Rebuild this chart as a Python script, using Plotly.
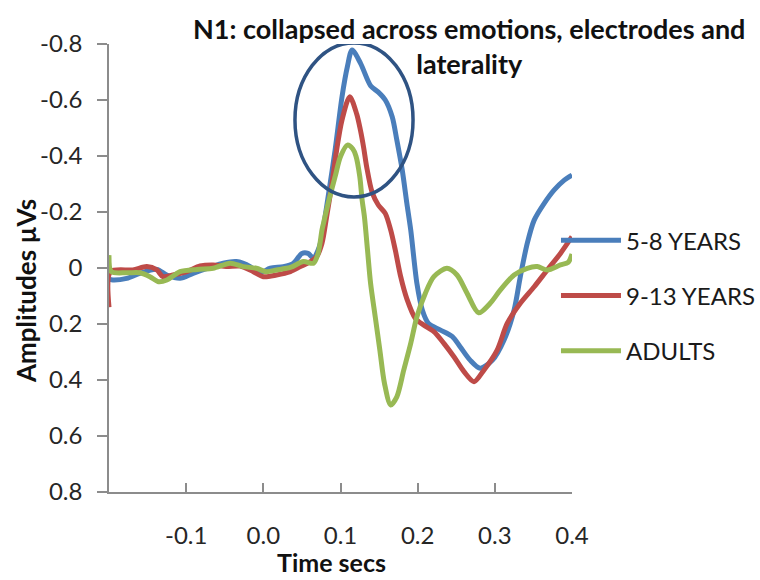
import plotly.graph_objects as go

# Grand-average N1 waveforms (time in s, amplitude in µV)
t_5_8 = [-0.200, -0.195, -0.177, -0.160, -0.138, -0.125, -0.108, -0.091, -0.069, -0.052,
         -0.035, -0.017, -0.006, 0.009, 0.026, 0.039, 0.050, 0.058, 0.065, 0.071,
         0.076, 0.080, 0.084, 0.093, 0.102, 0.109, 0.115, 0.126, 0.139, 0.149,
         0.158, 0.167, 0.173, 0.180, 0.186, 0.191, 0.199, 0.206, 0.214, 0.229,
         0.245, 0.255, 0.268, 0.281, 0.297, 0.312, 0.325, 0.333, 0.342, 0.351,
         0.364, 0.377, 0.390, 0.400]
v_5_8 = [0.040, 0.043, 0.037, 0.019, 0.005, 0.025, 0.037, 0.019, -0.002, -0.017,
         -0.023, -0.005, 0.019, 0.001, -0.005, -0.017, -0.052, -0.052, -0.035, -0.064,
         -0.112, -0.183, -0.255, -0.421, -0.612, -0.720, -0.779, -0.731, -0.651, -0.628,
         -0.600, -0.540, -0.457, -0.350, -0.231, -0.136, 0.055, 0.150, 0.198, 0.221,
         0.245, 0.281, 0.329, 0.358, 0.329, 0.257, 0.150, 0.031, -0.088, -0.171,
         -0.231, -0.279, -0.314, -0.332]

t_9_13 = [-0.200, -0.198, -0.169, -0.151, -0.138, -0.130, -0.117, -0.099, -0.082, -0.065,
          -0.048, -0.030, -0.013, 0.000, 0.017, 0.035, 0.048, 0.061, 0.069, 0.076,
          0.082, 0.089, 0.095, 0.102, 0.112, 0.121, 0.126, 0.130, 0.134, 0.141,
          0.149, 0.158, 0.165, 0.171, 0.178, 0.186, 0.197, 0.208, 0.221, 0.234,
          0.247, 0.260, 0.273, 0.286, 0.303, 0.316, 0.333, 0.351, 0.368, 0.385,
          0.400]
v_9_13 = [0.140, 0.013, 0.007, -0.005, 0.007, 0.031, 0.025, 0.013, -0.007, -0.011,
          -0.005, -0.007, 0.013, 0.031, 0.025, 0.013, -0.005, -0.023, -0.040, -0.088,
          -0.183, -0.302, -0.421, -0.529, -0.612, -0.550, -0.490, -0.430, -0.360, -0.270,
          -0.225, -0.195, -0.136, -0.064, 0.031, 0.110, 0.180, 0.204, 0.227, 0.269,
          0.317, 0.370, 0.406, 0.364, 0.293, 0.198, 0.126, 0.067, 0.007, -0.052,
          -0.112]

t_adults = [-0.200, -0.197, -0.177, -0.160, -0.147, -0.136, -0.125, -0.108, -0.086, -0.065,
            -0.043, -0.026, -0.009, 0.004, 0.017, 0.035, 0.052, 0.065, 0.071, 0.076,
            0.078, 0.084, 0.093, 0.100, 0.109, 0.116, 0.120, 0.125, 0.128, 0.131,
            0.135, 0.139, 0.145, 0.151, 0.157, 0.165, 0.173, 0.182, 0.191, 0.199,
            0.210, 0.221, 0.238, 0.251, 0.264, 0.279, 0.294, 0.307, 0.325, 0.342,
            0.355, 0.368, 0.385, 0.395, 0.400]
v_adults = [-0.046, 0.013, 0.017, 0.017, 0.031, 0.049, 0.043, 0.013, 0.005, 0.001,
            -0.017, -0.005, 0.001, 0.013, 0.007, -0.002, -0.023, -0.017, -0.052, -0.136,
            -0.160, -0.231, -0.326, -0.398, -0.439, -0.425, -0.400, -0.326, -0.243, -0.183,
            -0.064, 0.055, 0.174, 0.293, 0.412, 0.489, 0.460, 0.364, 0.269, 0.174,
            0.090, 0.031, 0.001, 0.025, 0.090, 0.160, 0.126, 0.079, 0.025, 0.001,
            -0.005, 0.007, -0.011, -0.020, -0.050]

series_names = ["5-8 YEARS", "9-13 YEARS", "ADULTS"]
series_colors = ["#4A7EBB", "#BE4B48", "#98B954"]

x_ticks = [-0.1, 0.0, 0.1, 0.2, 0.3, 0.4]
x_tick_text = ["-0.1", "0.0", "0.1", "0.2", "0.3", "0.4"]
y_ticks = [-0.8, -0.6, -0.4, -0.2, 0.0, 0.2, 0.4, 0.6, 0.8]
y_tick_text = ["-0.8", "-0.6", "-0.4", "-0.2", "0", "0.2", "0.4", "0.6", "0.8"]

# N1 highlight ellipse (data coordinates)
n1_time = [0.041, 0.194]
n1_amp = [-0.804, -0.254]

chart_title = "N1: collapsed across emotions, electrodes and<br>laterality"
x_title = "Time secs"
y_title = "Amplitudes µVs"

FONT = "Lato"
AXIS_GREY = "#8C8C8C"
TEXT_DARK = "#262626"

fig = go.Figure()
for i, (t, v) in enumerate([(t_5_8, v_5_8), (t_9_13, v_9_13), (t_adults, v_adults)]):
    fig.add_trace(go.Scatter(
        x=t, y=v, mode="lines", name=series_names[i],
        legendgroup=series_names[i],
        line=dict(color=series_colors[i], width=5, shape="spline", smoothing=0.8),
    ))

fig.add_shape(type="circle", xref="x", yref="y",
              x0=n1_time[0], x1=n1_time[1], y0=n1_amp[0], y1=n1_amp[1],
              line=dict(color="#2F5383", width=3.5), layer="above")

# Chart title and axis titles
fig.add_annotation(text=f"<b>{chart_title}</b>", xref="paper", yref="paper",
                   x=0.7775, y=1.075, xanchor="center", yanchor="top", showarrow=False,
                   font=dict(family=FONT, size=27, color="#111111"))
fig.add_annotation(text=f"<b>{x_title}</b>", xref="paper", yref="paper",
                   x=0.4795, y=-0.157, xanchor="center", yanchor="middle", showarrow=False,
                   font=dict(family=FONT, size=25, color="#111111"))
fig.add_annotation(text=f"<b>{y_title}</b>", xref="paper", yref="paper",
                   x=-0.179, y=0.449, xanchor="center", yanchor="middle", showarrow=False,
                   textangle=-90,
                   font=dict(family=FONT, size=26, color="#111111"))

fig.update_layout(
    width=760, height=580,
    margin=dict(l=109, r=188, t=44, b=88, autoexpand=False),
    paper_bgcolor="white", plot_bgcolor="white",
    font=dict(family=FONT, color=TEXT_DARK),
    showlegend=True,
    legend=dict(
        x=0.9654, xanchor="left", y=0.611, yanchor="top",
        font=dict(family=FONT, size=24, color="#1A1A1A"),
        tracegroupgap=21, itemwidth=60,
        bgcolor="rgba(0,0,0,0)",
    ),
)

fig.update_xaxes(
    range=[-0.2, 0.4], tickvals=x_ticks, ticktext=x_tick_text,
    showgrid=False, zeroline=False,
    showline=True, linecolor=AXIS_GREY, linewidth=1.5,
    ticks="inside", ticklen=9, tickcolor=AXIS_GREY, tickwidth=1.5,
    tickfont=dict(family=FONT, size=24, color=TEXT_DARK),
    ticklabelstandoff=21,
)
fig.update_yaxes(
    range=[0.8, -0.8], tickvals=y_ticks, ticktext=y_tick_text,
    showgrid=False, zeroline=False,
    showline=True, linecolor=AXIS_GREY, linewidth=1.5,
    ticks="outside", ticklen=10, tickcolor=AXIS_GREY, tickwidth=1.5,
    tickfont=dict(family=FONT, size=24, color=TEXT_DARK),
    ticklabelstandoff=10,
)

fig.write_html("out.html")
